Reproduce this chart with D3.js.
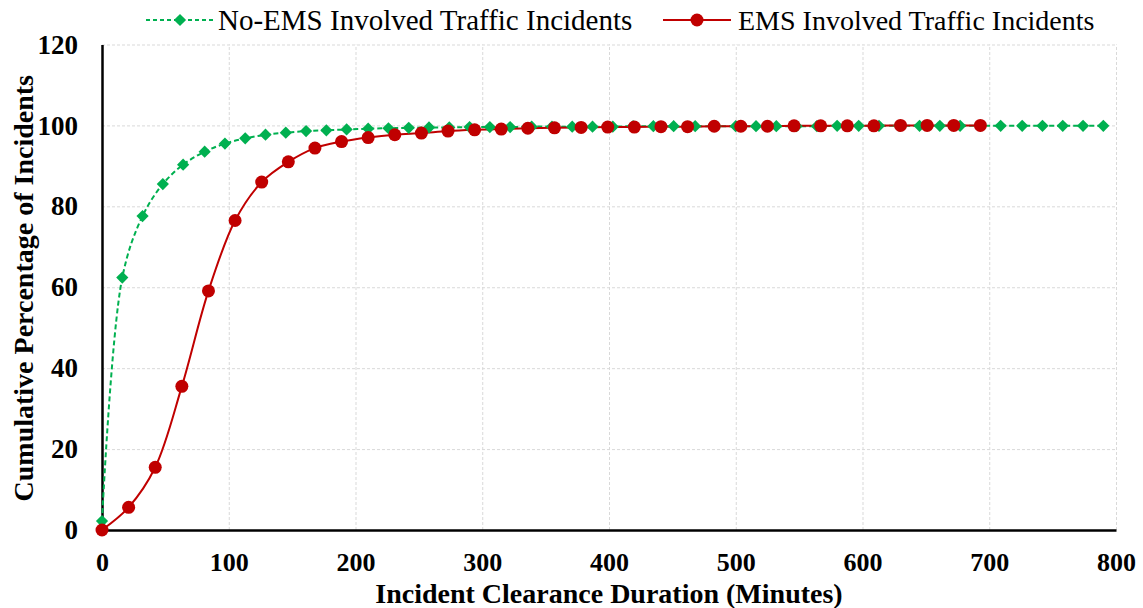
<!DOCTYPE html>
<html>
<head>
<meta charset="utf-8">
<script src="https://cdn.jsdelivr.net/npm/d3@7"></script>
<style>
    body { margin: 0; background: white; }
    svg, svg text { font-family: "Liberation Serif", "Times New Roman", Times, "DejaVu Serif", serif !important; }
</style>
</head>
<body>
<div id="graph"></div>
<script>
// no-EMS series (minutes, cumulative %)
const noEmsMinutes = [0, 16, 32, 48, 64, 81, 97, 113, 129, 145, 161, 177, 193, 210, 226, 242, 258, 274, 290, 306,
    322, 339, 355, 371, 387, 403, 419, 435, 451, 468, 484, 500, 516, 532, 548, 564, 580, 597, 613, 629,
    645, 661, 677, 693, 709, 726, 742, 758, 774, 790];
const noEmsPercent = [2.2, 62.4, 77.6, 85.5, 90.3, 93.5, 95.5, 96.8, 97.7, 98.2, 98.6, 98.8, 99.0, 99.2, 99.3, 99.4, 99.5, 99.5, 99.6, 99.6,
    99.6, 99.7, 99.7, 99.7, 99.7, 99.7, 99.8, 99.8, 99.8, 99.8, 99.8, 99.8, 99.8, 99.8, 99.8, 99.8, 99.9, 99.9, 99.9, 99.9,
    99.9, 99.9, 99.9, 99.9, 99.9, 99.9, 99.9, 99.9, 99.9, 99.9];

// EMS series (minutes, cumulative %)
const emsMinutes = [0, 21, 42, 63, 84, 105, 126, 147, 168, 189, 210, 231, 252, 273, 294, 315, 336, 357, 378, 399,
    420, 441, 462, 483, 504, 525, 546, 567, 588, 609, 630, 651, 672, 693];
const emsPercent = [0, 5.6, 15.5, 35.5, 59.1, 76.5, 86.0, 91.0, 94.4, 96.0, 97.0, 97.7, 98.1, 98.6, 98.9, 99.1, 99.3, 99.4, 99.5, 99.6,
    99.6, 99.7, 99.7, 99.8, 99.8, 99.8, 99.9, 99.9, 99.9, 99.9, 100, 100, 100, 100];

const xTicks = [0, 100, 200, 300, 400, 500, 600, 700, 800];
const yTicks = [0, 20, 40, 60, 80, 100, 120];
const seriesNames = ["No-EMS Involved Traffic Incidents", "EMS Involved Traffic Incidents"];

const svgWidth = 1143, svgHeight = 608;
const margin = {top: 44.5, right: 27, bottom: 78, left: 102};
const graphWidth = svgWidth - margin.left - margin.right;
const graphHeight = svgHeight - margin.top - margin.bottom;
const green = "#00b050", red = "#c00000";
const serif = "'Liberation Serif', 'Times New Roman', Times, 'DejaVu Serif', serif";

let svg = d3.select("#graph").append("svg")
    .attr("width", svgWidth).attr("height", svgHeight)
    .attr("font-family", serif);

// scales
const xScale = d3.scaleLinear().domain([0, 800]).range([0, graphWidth]);
const yScale = d3.scaleLinear().domain([0, 120]).range([graphHeight, 0]);

let g = svg.append("g").attr("transform", `translate(${margin.left}, ${margin.top})`);

// dashed grid lines
g.append("g").attr("class", "x-grid")
    .attr("transform", `translate(0, ${graphHeight})`)
    .call(d3.axisBottom(xScale).tickValues(xTicks.slice(1)).tickSize(-graphHeight).tickFormat(""))
    .call(a => a.select(".domain").remove())
    .call(a => a.selectAll("line").attr("stroke", "#d9d9d9").attr("stroke-dasharray", "3,2"));
g.append("g").attr("class", "y-grid")
    .call(d3.axisLeft(yScale).tickValues(yTicks.slice(1)).tickSize(-graphWidth).tickFormat(""))
    .call(a => a.select(".domain").remove())
    .call(a => a.selectAll("line").attr("stroke", "#d9d9d9").attr("stroke-dasharray", "3,2"));

// axes (black lines, no tick marks)
g.append("g").attr("class", "x-axis")
    .attr("transform", `translate(0, ${graphHeight})`)
    .call(d3.axisBottom(xScale).tickValues(xTicks).tickSize(0).tickPadding(22.5))
    .attr("font-family", serif)
    .call(a => a.select(".domain").attr("stroke", "black").attr("stroke-width", 2.5))
    .call(a => a.selectAll("text").attr("font-size", "26px").attr("font-weight", "bold").attr("fill", "black"));
g.append("g").attr("class", "y-axis")
    .call(d3.axisLeft(yScale).tickValues(yTicks).tickSize(0).tickPadding(24))
    .attr("font-family", serif)
    .call(a => a.select(".domain").attr("stroke", "black").attr("stroke-width", 2.5))
    .call(a => a.selectAll("text").attr("font-size", "27px").attr("font-weight", "bold").attr("fill", "black"));

// axis titles
svg.append("text").attr("class", "x-label").attr("text-anchor", "middle")
    .attr("x", margin.left + graphWidth / 2).attr("y", 603)
    .attr("font-size", "28px").attr("font-weight", "bold")
    .text("Incident Clearance Duration (Minutes)");
svg.append("text").attr("class", "y-label").attr("text-anchor", "middle")
    .attr("transform", `translate(33, ${margin.top + graphHeight / 2 + 1}) rotate(-90)`)
    .attr("font-size", "28px").attr("font-weight", "bold")
    .text("Cumulative Percentage of Incidents");

// lines
const noEmsData = noEmsMinutes.map((m, i) => ({x: m, y: noEmsPercent[i]}));
const emsData = emsMinutes.map((m, i) => ({x: m, y: emsPercent[i]}));
const line = d3.line().x(d => xScale(d.x)).y(d => yScale(d.y)).curve(d3.curveCatmullRom.alpha(0.5));

g.append("path").datum(noEmsData).attr("fill", "none").attr("stroke", green)
    .attr("stroke-width", 2).attr("stroke-dasharray", "5,3").attr("d", line);
g.append("path").datum(emsData).attr("fill", "none").attr("stroke", red)
    .attr("stroke-width", 2).attr("d", line);

// markers
const diamond = d3.symbol().type(d3.symbolDiamond2).size(95);
g.append("g").selectAll("path").data(noEmsData).join("path")
    .attr("transform", d => `translate(${xScale(d.x)}, ${yScale(d.y)})`)
    .attr("d", diamond).attr("fill", green);
g.append("g").selectAll("circle").data(emsData).join("circle")
    .attr("cx", d => xScale(d.x)).attr("cy", d => yScale(d.y))
    .attr("r", 6.5).attr("fill", red);

// legend
let legend = svg.append("g").attr("class", "legend");
let leg1 = legend.append("g").attr("transform", "translate(146, 20)");
leg1.append("line").attr("x1", 0).attr("x2", 68).attr("stroke", green)
    .attr("stroke-width", 2).attr("stroke-dasharray", "4,3");
leg1.append("path").attr("transform", "translate(34, 0)").attr("d", diamond).attr("fill", green);
leg1.append("text").attr("x", 72).attr("y", 10).attr("font-size", "29px").text(seriesNames[0]);

let leg2 = legend.append("g").attr("transform", "translate(663, 20)");
leg2.append("line").attr("x1", 0).attr("x2", 68).attr("stroke", red).attr("stroke-width", 2);
leg2.append("circle").attr("cx", 34).attr("cy", 0).attr("r", 6.5).attr("fill", red);
leg2.append("text").attr("x", 75).attr("y", 10).attr("font-size", "28px").text(seriesNames[1]);
</script>
</body>
</html>
